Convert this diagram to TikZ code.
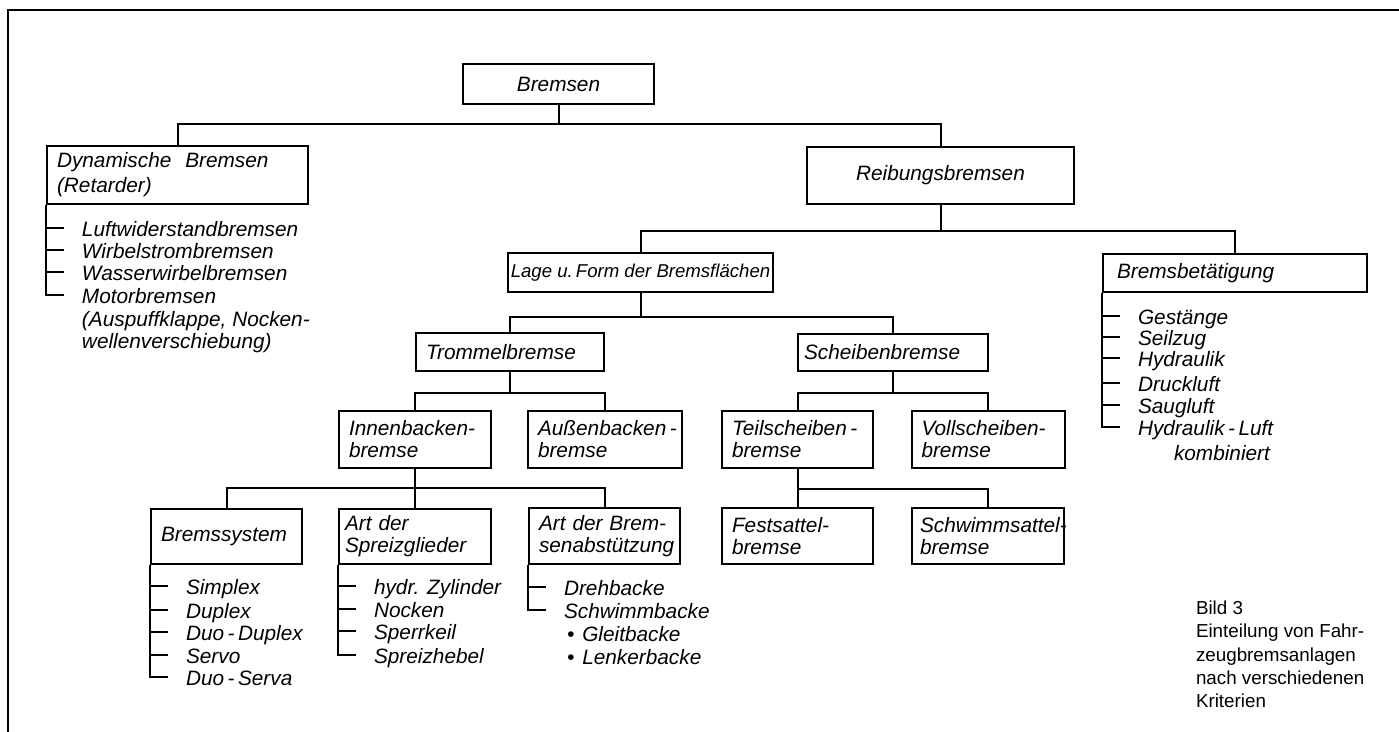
\documentclass[tikz,border=0pt]{standalone}
\usepackage{fontspec}
\setmainfont{Liberation Sans}
\hyphenpenalty=10000
\exhyphenpenalty=10000

\begin{document}
\begin{tikzpicture}[x=0.5pt, y=-0.5pt, line width=1pt,
  kasten/.style={draw, inner xsep=5pt, inner ysep=0pt, align=left, font=\itshape\fontsize{10.4}{11}\selectfont},
  eintrag/.style={anchor=west, inner sep=0pt, text height=9pt, text depth=0pt, font=\itshape\fontsize{10.4}{11}\selectfont},
  strich/.style={shorten >=8.5pt}]
\useasboundingbox (0,0) rectangle (1399,732);
\draw (8,732) -- (8,10) -- (1399,10);

\node[kasten, align=center, minimum width=95.5pt, minimum height=20pt, text width=85.5pt] (brems) at (558.5,84) {Bremsen};
\node[kasten, minimum width=130.5pt, minimum height=29pt, text width=120.5pt, font=\itshape\fontsize{10.4}{12.5}\selectfont] (dyn) at (177.5,175) {Dynamische\ \ Bremsen\\(Retarder)};
\node[kasten, align=center, minimum width=133.5pt, minimum height=28.5pt, text width=123.5pt] (reib) at (940.5,175.5) {Reibungsbremsen};
\node[kasten, align=center, inner xsep=1.5pt, minimum width=132.5pt, minimum height=19.5pt, font=\itshape\fontsize{9.3}{11}\selectfont] (lage) at (640.5,272.5) {Lage u.\,Form der Bremsflächen};
\node[kasten, inner xsep=7pt, minimum width=132pt, minimum height=19pt, text width=118pt] (betae) at (1235,273) {Bremsbetätigung};
\node[kasten, minimum width=94pt, minimum height=19pt, text width=84pt] (trommel) at (510,352) {Trommelbremse};
\node[kasten, inner xsep=3pt, minimum width=95pt, minimum height=18.5pt, text width=89pt] (scheibe) at (893,352.5) {Scheibenbremse};
\node[kasten, minimum width=76pt, minimum height=28.5pt, text width=66pt] (innen) at (415,439.5) {Innenbacken-\\bremse};
\node[kasten, minimum width=77pt, minimum height=28.5pt, text width=67pt] (aussen) at (605,439.5) {Außenbacken\,-\\bremse};
\node[kasten, minimum width=75.5pt, minimum height=28.5pt, text width=65.5pt] (teil) at (797.5,439.5) {Teilscheiben\,-\\bremse};
\node[kasten, minimum width=76.5pt, minimum height=28.5pt, text width=66.5pt] (voll) at (988,439.5) {Vollscheiben-\\bremse};
\node[kasten, minimum width=75.5pt, minimum height=27.5pt, text width=65.5pt] (bsys) at (226.5,536.5) {Bremssystem};
\node[kasten, inner xsep=3pt, minimum width=76pt, minimum height=27.5pt, text width=70pt] (spreiz) at (415,536.5) {Art der\\Spreizglieder};
\node[kasten, minimum width=75.5pt, minimum height=28pt, text width=65.5pt] (abst) at (604.5,536) {Art der Brem-\\senabstützung};
\node[kasten, minimum width=75.5pt, minimum height=28pt, text width=65.5pt] (fest) at (797.5,536) {Festsattel-\\bremse};
\node[kasten, inner xsep=4pt, minimum width=76pt, minimum height=28pt, text width=68pt] (schw) at (988,536) {Schwimmsattel-\\bremse};

\draw (brems.south) -- ++(0,19) coordinate (k1);
\draw (dyn.north) |- (k1) -| (reib.north);
\draw (reib.south) -- ++(0,26) coordinate (k2);
\draw (lage.north) |- (k2) -| (betae.north);
\draw (lage.south) -- ++(0,24) coordinate (k3);
\draw (trommel.north) |- (k3) -| (scheibe.north);
\draw (trommel.south) -- ++(0,21) coordinate (k4);
\draw (innen.north) |- (k4) -| (aussen.north);
\draw (scheibe.south) -- ++(0,21) coordinate (k5);
\draw (teil.north) |- (k5) -| (voll.north);
\draw (innen.south) -- (spreiz.north);
\path (innen.south) -- ++(0,19) coordinate (k6);
\draw (bsys.north) |- (k6) -| (abst.north);
\draw (teil.south) -- ++(0,20) coordinate (k7);
\draw (fest.north) |- (k7) -| (schw.north);

\node[eintrag] (d1) at (81,228) {Luftwiderstandbremsen};
\node[eintrag] (d2) at (81,250) {Wirbelstrombremsen};
\node[eintrag] (d3) at (81,272) {Wasserwirbelbremsen};
\node[eintrag] (d4) at (81,295) {Motorbremsen};
\node[eintrag] (d5) at (81,318) {(Auspuffklappe, Nocken-};
\node[eintrag] (d6) at (81,340) {wellenverschiebung)};
\draw[strich] (dyn.south west) |- (d4.west);
\foreach \n in {d1,d2,d3} \draw[strich] (dyn.south west |- \n.west) -- (\n.west);

\node[eintrag] (b1) at (1137,316) {Gestänge};
\node[eintrag] (b2) at (1137,337) {Seilzug};
\node[eintrag] (b3) at (1137,358) {Hydraulik};
\node[eintrag] (b4) at (1137,383) {Druckluft};
\node[eintrag] (b5) at (1137,405) {Saugluft};
\node[eintrag] (b6) at (1137,427) {Hydraulik\,-\,Luft};
\node[eintrag] (b7) at (1173,452) {kombiniert};
\draw[strich] (betae.south west) |- (b6.west);
\foreach \n in {b1,b2,b3,b4,b5} \draw[strich] (betae.south west |- \n.west) -- (\n.west);

\node[eintrag] (s1) at (185,586) {Simplex};
\node[eintrag] (s2) at (185,610) {Duplex};
\node[eintrag] (s3) at (185,632) {Duo\,-\,Duplex};
\node[eintrag] (s4) at (185,655) {Servo};
\node[eintrag] (s5) at (185,677) {Duo\,-\,Serva};
\draw[strich] (bsys.south west) |- (s5.west);
\foreach \n in {s1,s2,s3,s4} \draw[strich] (bsys.south west |- \n.west) -- (\n.west);

\node[eintrag] (p1) at (373,586) {hydr. Zylinder};
\node[eintrag] (p2) at (373,609) {Nocken};
\node[eintrag] (p3) at (373,631) {Sperrkeil};
\node[eintrag] (p4) at (373,655) {Spreizhebel};
\draw[strich] (spreiz.south west) |- (p4.west);
\foreach \n in {p1,p2,p3} \draw[strich] (spreiz.south west |- \n.west) -- (\n.west);

\node[eintrag] (a1) at (563,587) {Drehbacke};
\node[eintrag] (a2) at (563,610) {Schwimmbacke};
\node[eintrag] (a3) at (566,633) {\textbullet\hspace{4pt}Gleitbacke};
\node[eintrag] (a4) at (566,656) {\textbullet\hspace{4pt}Lenkerbacke};
\draw[strich] (abst.south west) |- (a2.west);
\draw[strich] (abst.south west |- a1.west) -- (a1.west);

\node[anchor=north west, inner sep=0pt, align=left, font=\fontsize{9.4}{11.65}\selectfont] (bild) at (1195,600) {Bild 3\\Einteilung von Fahr-\\zeugbremsanlagen\\nach verschiedenen\\Kriterien};
\end{tikzpicture}
\end{document}
